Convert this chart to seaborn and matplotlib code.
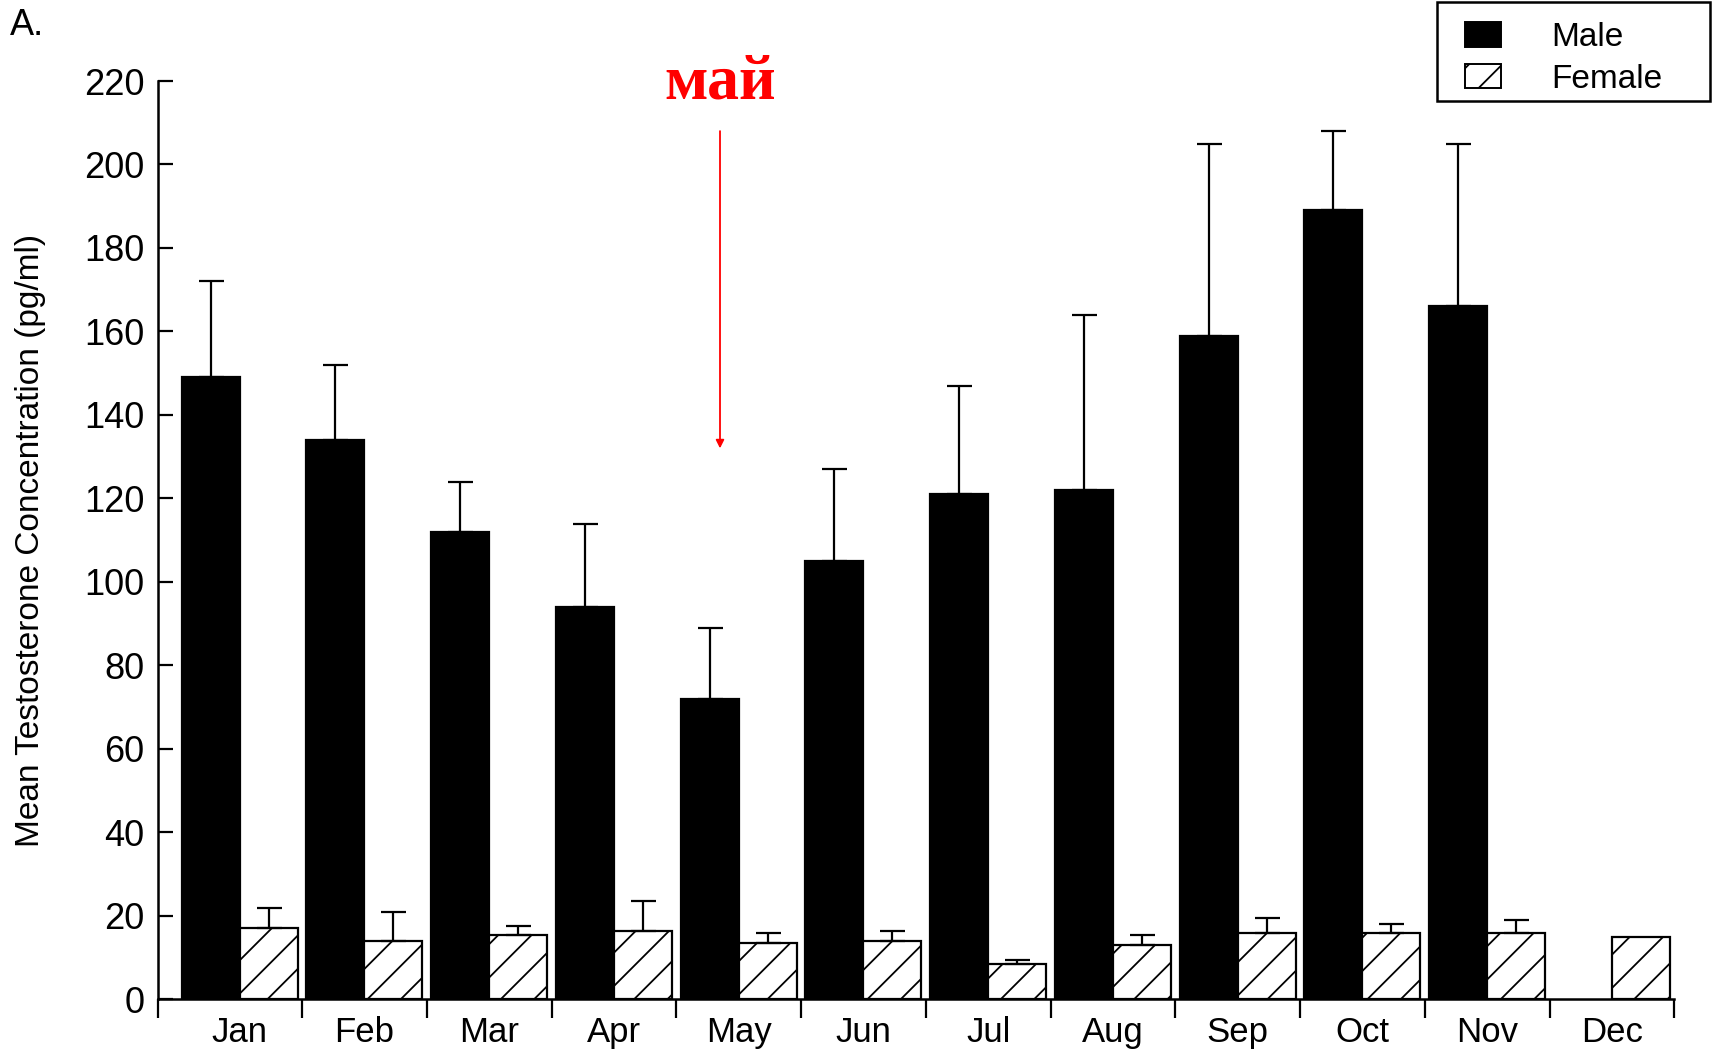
import numpy as np
import pandas as pd
import matplotlib
matplotlib.use('Agg')
import matplotlib.pyplot as plt
import matplotlib.patches as mpatches
import matplotlib.font_manager as fm
import seaborn as sns

# --- データ ---
months = ['Jan', 'Feb', 'Mar', 'Apr', 'May', 'Jun',
          'Jul', 'Aug', 'Sep', 'Oct', 'Nov', 'Dec']
male_mean = [149, 134, 112, 94, 72, 105, 121, 122, 159, 189, 166, np.nan]
male_err = [23, 18, 12, 20, 17, 22, 26, 42, 46, 19, 39, np.nan]
female_mean = [17, 14, 15.5, 16.5, 13.5, 14, 8.5, 13, 16, 16, 16, 15]
female_err = [5, 7, 2, 7, 2.5, 2.5, 1, 2.5, 3.5, 2, 3, np.nan]
sex_labels = ['Male', 'Female']
y_ticks = list(range(0, 221, 20))

# --- フォント・色 ---
sns.set_style('ticks')
names = {f.name for f in fm.fontManager.ttflist}
narrow = 'Liberation Sans Narrow' if 'Liberation Sans Narrow' in names else 'Liberation Sans'
plt.rcParams['font.family'] = ['Liberation Sans', 'DejaVu Sans']
plt.rcParams['hatch.linewidth'] = 1.3
for key in ['text.color', 'axes.labelcolor', 'xtick.color', 'ytick.color',
            'axes.edgecolor']:
    plt.rcParams[key] = 'black'

df = pd.DataFrame({
    'month': months * 2,
    'value': male_mean + female_mean,
    'err': male_err + female_err,
    'sex': [sex_labels[0]] * 12 + [sex_labels[1]] * 12,
})

fig = plt.figure(figsize=(17.19, 10.52), dpi=100)
ax = fig.add_axes([0.092, 0.050, 0.882, 0.873])

sns.barplot(data=df, x='month', y='value', hue='sex', order=months,
            hue_order=sex_labels, palette=['black', 'white'], width=0.93,
            edgecolor='black', linewidth=1.6, legend=False, ax=ax,
            errorbar=None, saturation=1)

# --- ハッチとエラーバー ---
bar_groups = list(ax.containers)[:2]
for k, cont in enumerate(bar_groups):
    sub = df[df['sex'] == sex_labels[k]].set_index('month')
    xs, ys, es = [], [], []
    for bar in cont:
        h = bar.get_height()
        if np.isnan(h) or h == 0:
            continue
        if k == 1:
            bar.set_hatch('/')
        cx = bar.get_x() + bar.get_width() / 2
        m = months[int(round(cx))]
        if np.isnan(sub.loc[m, 'err']):
            continue
        xs.append(cx)
        ys.append(h)
        es.append(sub.loc[m, 'err'])
    ax.errorbar(xs, ys, yerr=[np.zeros(len(es)), es], fmt='none',
                ecolor='black', elinewidth=1.6, capsize=9, capthick=1.6,
                zorder=1)

# --- 軸 ---
x_left = -0.654
ax.set_xlim(x_left, 11.5)
ax.set_ylim(0, 220)
ax.set_yticks(y_ticks)
ax.set_yticklabels([str(t) for t in y_ticks], fontsize=26)
ax.set_xticks([x_left] + [i + 0.5 for i in range(12)])
ax.set_xticklabels([])
ax.set_xticks(range(12), minor=True)
ax.set_xticklabels(months, minor=True, fontsize=25, family=narrow)
ax.tick_params(axis='x', which='major', direction='out', length=13.5, width=1.6)
ax.tick_params(axis='x', which='minor', length=0, pad=12)
ax.tick_params(axis='y', direction='in', length=11, width=1.6, pad=10)
ax.set_xlabel('')
ax.set_ylabel('Mean Testosterone Concentration (pg/ml)', fontsize=24,
              family=narrow, labelpad=27)
for side in ['top', 'right']:
    ax.spines[side].set_visible(False)
for side in ['left', 'bottom']:
    ax.spines[side].set_linewidth(1.8)

# --- 凡例（枠は別に描く） ---
handles = [mpatches.Patch(facecolor='black', edgecolor='black', linewidth=1.4),
           mpatches.Patch(facecolor='white', edgecolor='black', hatch='/', linewidth=1.4)]
fig.legend(handles, sex_labels, loc='upper left',
           bbox_to_anchor=(0.852, 0.979), fontsize=24, frameon=False,
           handlelength=1.1, handleheight=0.75, handletextpad=1.5,
           labelspacing=0.32, borderpad=0, borderaxespad=0)
fig.add_artist(mpatches.Rectangle((0.836, 0.904), 0.159, 0.094,
                                  transform=fig.transFigure, fill=False,
                                  edgecolor='black', linewidth=1.8))

# --- 注記 ---
fig.text(0.006, 0.992, 'A.', fontsize=26, va='top', ha='left')
ax.text(3.85, 219.5, 'май', ha='center', va='center', color='red',
        fontsize=46, fontweight='bold', family='Liberation Serif', clip_on=False)
ax.annotate('', xy=(3.85, 132), xytext=(3.85, 208),
            arrowprops=dict(arrowstyle='-|>', color='red', lw=1.3,
                            mutation_scale=12, shrinkA=0, shrinkB=0))

fig.savefig('out.png', dpi=100, facecolor='white')
